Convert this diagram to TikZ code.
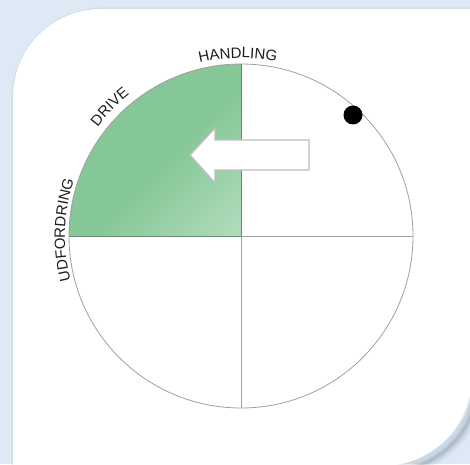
\documentclass[tikz,border=0pt]{standalone}
\usepackage{fontspec}
\setsansfont{Liberation Sans}
\usetikzlibrary{decorations.text}
\definecolor{bgblue}{RGB}{221,234,245}
\definecolor{shadowc}{RGB}{90,110,125}
\definecolor{gA}{RGB}{134,199,151}
\definecolor{gB}{RGB}{204,234,212}
\definecolor{ringc}{RGB}{160,160,160}
\definecolor{divgreen}{RGB}{100,135,110}
\definecolor{arrowc}{RGB}{190,190,190}
\definecolor{txt}{RGB}{30,30,30}
\pgfdeclareverticalshading{quadshade}{100bp}{color(0bp)=(gB); color(18bp)=(gB!55!gA); color(46bp)=(gA); color(100bp)=(gA)}
\tikzset{
  ring/.style={draw=ringc, line width=0.8pt},
  divider/.style={draw=ringc, line width=0.8pt},
  greendiv/.style={draw=divgreen, line width=0.8pt},
  arrowshape/.style={fill=white, draw=arrowc, line width=1.4pt, line join=miter},
  curvelabel/.style={decorate, decoration={text along path, text align=center, text color=txt,
    text={|\sffamily\fontsize{15}{18}\selectfont|#1}}},
}
\begin{document}
\begin{tikzpicture}[x=1pt,y=1pt]
\useasboundingbox (0,0) rectangle (470,464);
\fill[bgblue] (0,0) rectangle (470,464);
% faint outline all round
\draw[shadowc, line width=1.6pt, opacity=0.08]
    (13,367) arc[start angle=180, end angle=90, radius=88] -- (475,455)
    -- (475,88) arc[start angle=0, end angle=-90, radius=90] -- (13,-2) -- cycle;
% bottom-right drop shadow
\foreach \w/\o in {14/0.05,10/0.07,7/0.08,4/0.10,2/0.12}{
  \draw[shadowc, line width=\w pt, opacity=\o]
    (18,362) arc[start angle=180, end angle=90, radius=88] -- (478,450)
    -- (478,83) arc[start angle=0, end angle=-90, radius=90] -- (18,-7) -- cycle;
}
% panel
\fill[white] (13,367) arc[start angle=180, end angle=90, radius=88] -- (472,455)
  -- (472,88) arc[start angle=0, end angle=-90, radius=90] -- (13,-2) -- cycle;
\coordinate (c) at (241,228);
% green quadrant
\shade[shading=quadshade, shading angle=45] (c) -- ++(-172,0) arc[start angle=180, end angle=90, radius=172] -- cycle;
% circle and dividers
\draw[ring] (c) circle[radius=172];
\draw[divider] (c) -- ++(172,0);
\draw[divider] (c) -- ++(0,-172);
\draw[greendiv] (c) -- ++(-172,0);
\draw[greendiv] (c) -- ++(0,172);
% arrow
\coordinate (tip) at (190,309);
\draw[arrowshape] (tip) -- (215,336) -- (215,324) -- (309,324) -- (309,294) -- (215,294) -- (215,281) -- cycle;
% dot
\fill[black] (353,349) circle[radius=9.5];
% labels
\path[curvelabel={HANDLING}] (c) ++(107:178) arc[start angle=107, end angle=75, radius=178];
\path[curvelabel={DRIVE}] (c) ++(152:180) arc[start angle=152, end angle=119, radius=180];
\path[curvelabel={UDFORDRING}] (c) ++(202:176) arc[start angle=202, end angle=154, radius=176];
\end{tikzpicture}
\end{document}
